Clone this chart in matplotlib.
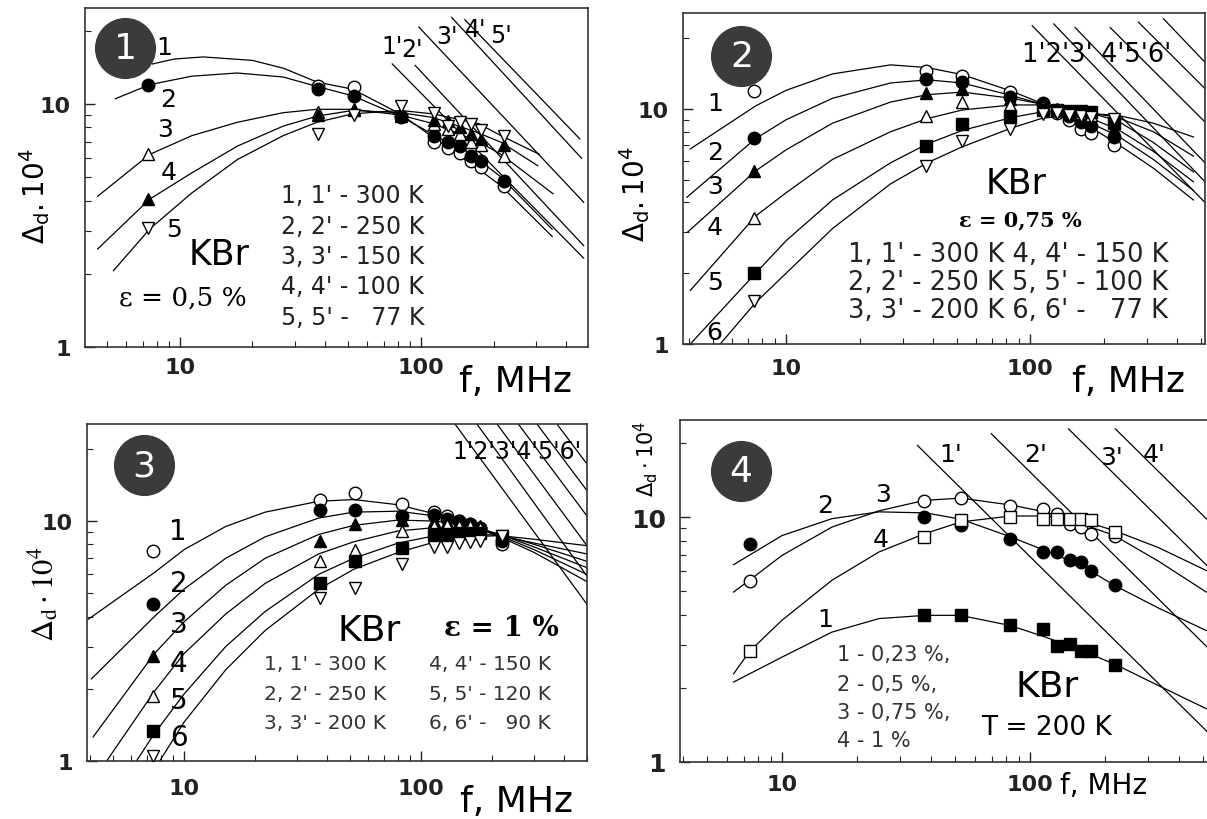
import numpy as np
import matplotlib.pyplot as plt
from matplotlib.ticker import NullFormatter

nan = np.nan

# measurement frequencies, MHz (same set in every panel)
freq = [7.4, 37.5, 52.5, 83, 113, 129, 145, 161, 177, 220]

# ---- panel 1 : KBr, eps = 0,5 % ----
p1_300 = [nan, 11.8, 11.7, 8.9, 7.0, 6.6, 6.3, 5.8, 5.5, 4.6]
p1_250 = [12.0, 11.5, 10.8, 8.8, 7.4, 7.0, 6.7, 6.1, 5.8, 4.8]
p1_150 = [6.2, 9.3, 9.4, 9.0, 8.3, 7.9, 7.5, 7.0, 6.8, 6.1]
p1_100 = [4.05, 9.0, 9.5, 8.9, 8.6, 8.5, 8.0, 7.5, 7.2, 6.8]
p1_77 = [3.1, 7.5, 9.0, 9.8, 9.2, 8.1, 8.4, 8.3, 7.8, 7.4]

p1_fit1 = [(7.7, 14.6), (9.5, 15.3), (12.5, 15.6), (20, 15.1), (27, 14.0), (37, 12.3),
           (52, 11.5), (82, 9.1), (112, 7.3), (173, 5.4), (215, 4.6), (350, 2.85)]
p1_fit2 = [(5.4, 10.5), (7.5, 12.0), (11.2, 13.0), (17.3, 13.4), (26.8, 12.9), (37, 11.8),
           (52, 10.8), (82, 8.9), (112, 7.5), (173, 5.9), (215, 5.0), (350, 3.05)]
p1_fit3 = [(4.56, 4.17), (7.5, 6.2), (11.2, 7.4), (17.3, 8.4), (26.8, 9.2), (37, 9.5),
           (52, 9.5), (82, 9.0), (112, 8.3), (173, 7.0), (215, 6.2), (353, 4.27)]
p1_fit4 = [(4.56, 2.53), (7.5, 4.06), (11.2, 5.2), (17.3, 6.7), (26.8, 8.1), (37, 8.9),
           (52, 9.4), (82, 9.2), (112, 8.8), (173, 7.6), (215, 6.95), (305, 5.57)]
p1_fit5 = [(5.3, 2.06), (7.5, 3.06), (11.2, 4.3), (17.3, 5.9), (26.8, 7.4), (37, 8.4),
           (52, 9.1), (82, 9.4), (112, 9.1), (173, 8.3), (215, 7.4), (310, 6.2)]
p1_asym = [((76, 14.6), (473, 2.32)), ((94.6, 14.4), (473, 2.61)), ((98, 20.7), (473, 3.94)),
           ((134, 22.7), (464, 5.97)), ((152, 22.2), (456, 7.18))]
p1_asym_lab = [("1'", 75.9, 17.3), ("2'", 91.8, 16.8), ("3'", 128, 19.0),
               ("4'", 169, 20.3), ("5'", 215, 19.2)]
p1_num_lab = [("1", 8.64, 17.1), ("2", 8.96, 10.5), ("3", 8.64, 7.9),
              ("4", 8.96, 5.23), ("5", 9.47, 3.06)]
p1_legend = ["1, 1' - 300 K", "2, 2' - 250 K", "3, 3' - 150 K", "4, 4' - 100 K", "5, 5' -   77 K"]
p1_legend_y = [4.2, 3.16, 2.37, 1.79, 1.33]

# ---- panel 2 : KBr, eps = 0,75 % ----
p2_300 = [11.9, 14.5, 13.8, 11.8, 10.6, 9.6, 9.0, 8.2, 7.9, 7.0]
p2_250 = [7.5, 13.4, 13.0, 11.2, 10.5, 9.8, 9.3, 8.8, 8.5, 7.6]
p2_200 = [5.45, 11.7, 12.2, 11.0, 10.4, 10.0, 9.5, 9.2, 8.9, 8.2]
p2_150 = [3.45, 9.3, 10.7, 10.4, 10.2, 10.0, 9.8, 9.6, 9.4, 8.8]
p2_100 = [2.0, 6.95, 8.6, 9.3, 9.9, 9.9, 9.8, 9.8, 9.7, 8.7]
p2_77 = [1.52, 5.7, 7.3, 8.2, 9.5, 9.6, 9.4, 9.3, 9.2, 9.1]

p2_fit1 = [(4.05, 6.76), (7.5, 10.3), (10, 12.0), (15.5, 14.1), (26.8, 15.4), (37.9, 15.0),
           (52.7, 14.0), (84, 11.9), (111, 10.6), (161, 8.9), (228, 7.1), (320, 5.6), (467, 4.1)]
p2_fit2 = [(3.92, 4.21), (7.5, 7.48), (10, 9.0), (15.5, 11.1), (26.8, 12.9), (37.9, 13.3),
           (52.7, 12.9), (84, 11.4), (111, 10.5), (161, 9.1), (228, 7.7), (320, 6.1), (467, 4.5)]
p2_fit3 = [(3.96, 3.0), (7.5, 5.45), (10, 6.7), (15.5, 8.7), (26.8, 10.7), (37.9, 11.5),
           (52.7, 11.8), (84, 11.1), (111, 10.5), (161, 9.5), (228, 8.2), (320, 6.6), (467, 4.9)]
p2_fit4 = [(4.05, 1.69), (7.5, 3.5), (10, 4.4), (15.5, 6.1), (26.8, 8.0), (37.9, 9.1),
           (52.7, 9.9), (84, 10.4), (111, 10.4), (161, 9.9), (228, 8.9), (320, 7.2), (467, 5.4)]
p2_fit5 = [(4.05, 1.0), (7.5, 2.0), (10, 2.75), (15.5, 4.1), (26.8, 5.9), (37.9, 7.1),
           (52.7, 8.1), (84, 9.2), (111, 9.7), (161, 9.8), (228, 9.2), (320, 8.0), (467, 6.3)]
p2_fit6 = [(5.37, 1.0), (7.5, 1.5), (10, 2.0), (15.5, 3.1), (26.8, 4.8), (37.9, 5.9),
           (52.7, 6.9), (84, 8.3), (111, 9.1), (161, 9.6), (228, 9.4), (320, 8.7), (467, 7.6)]
p2_asym = [((102, 22.6), (521, 4.0)), ((125, 23.0), (521, 4.9)), ((153, 22.2), (521, 5.9)),
           ((213, 22.2), (521, 8.8)), ((278, 23.4), (521, 12.2)), ((352, 24.2), (521, 15.8))]
p2_num_lab = [("1", 5.1, 10.6), ("2", 5.1, 6.55), ("3", 5.1, 4.72),
              ("4", 5.1, 3.14), ("5", 5.1, 1.83), ("6", 5.1, 1.12)]
p2_legend = ["1, 1' - 300 K 4, 4' - 150 K", "2, 2' - 250 K 5, 5' - 100 K",
             "3, 3' - 200 K 6, 6' -   77 K"]
p2_legend_y = [2.42, 1.84, 1.40]

# ---- panel 3 : KBr, eps = 1 % ----
p3_300 = [7.5, 12.3, 13.1, 11.8, 10.9, 10.5, 10.0, 9.7, 9.4, 8.0]
p3_250 = [4.5, 11.1, 11.1, 10.5, 10.6, 10.2, 10.0, 9.7, 9.4, 8.3]
p3_200 = [2.75, 8.3, 9.7, 10.1, 10.0, 9.9, 9.8, 9.7, 9.5, 8.5]
p3_150 = [1.87, 6.8, 7.6, 9.1, 9.5, 9.6, 9.5, 9.5, 9.4, 8.6]
p3_120 = [1.34, 5.5, 6.85, 7.75, 8.8, 8.8, 8.9, 8.9, 8.9, 8.7]
p3_90 = [1.05, 4.8, 5.25, 6.6, 7.8, 7.8, 8.1, 8.2, 8.3, 8.7]

p3_fit1 = [(3.95, 3.9), (7.5, 6.1), (10, 7.6), (15, 9.5), (22, 10.9), (37, 12.1), (52, 12.3),
           (80, 11.7), (115, 10.7), (160, 9.6), (215, 8.6), (300, 7.4), (500, 5.6)]
p3_fit2 = [(4.07, 2.2), (7.5, 4.0), (10, 5.2), (15, 7.0), (22, 8.6), (37, 10.3), (52, 10.9),
           (80, 11.0), (115, 10.5), (160, 9.7), (215, 8.7), (300, 7.6), (500, 6.0)]
p3_fit3 = [(4.14, 1.26), (7.5, 2.8), (10, 3.8), (15, 5.4), (22, 7.0), (37, 8.8), (52, 9.6),
           (80, 10.1), (115, 10.0), (160, 9.6), (215, 8.8), (300, 7.8), (500, 6.4)]
p3_fit4 = [(4.72, 1.0), (7.5, 1.95), (10, 2.8), (15, 4.1), (22, 5.5), (37, 7.3), (52, 8.2),
           (80, 9.1), (115, 9.4), (160, 9.3), (215, 8.8), (300, 8.0), (500, 6.8)]
p3_fit5 = [(6.3, 1.0), (7.5, 1.3), (10, 1.9), (15, 3.0), (22, 4.2), (37, 6.0), (52, 7.0),
           (80, 8.1), (115, 8.7), (160, 8.9), (215, 8.7), (300, 8.1), (500, 7.3)]
p3_fit6 = [(7.9, 1.0), (10, 1.45), (15, 2.4), (22, 3.5), (37, 5.2), (52, 6.3),
           (80, 7.4), (115, 8.2), (160, 8.6), (215, 8.7), (300, 8.4), (500, 7.9)]
p3_asym = [((139, 25.4), (501, 4.5)), ((172, 25.4), (501, 5.9)), ((209, 25.4), (501, 7.9)),
           ((257, 25.4), (501, 10.5)), ((308, 25.4), (501, 13.4)), ((374, 25.4), (501, 17.3))]
p3_num_lab = [("1", 9.4, 9.1), ("2", 9.5, 5.5), ("3", 9.5, 3.72),
              ("4", 9.5, 2.56), ("5", 9.5, 1.8), ("6", 9.5, 1.26)]
p3_legend_a = ["1, 1' - 300 K", "2, 2' - 250 K", "3, 3' - 200 K"]
p3_legend_b = ["4, 4' - 150 K", "5, 5' - 120 K", "6, 6' -   90 K"]
p3_legend_y = [2.54, 1.91, 1.45]

# ---- panel 4 : KBr, T = 200 K, different eps ----
p4_023 = [nan, 3.99, 3.97, 3.64, 3.5, 2.97, 3.04, 2.83, 2.83, 2.48]
p4_05 = [7.78, 10.0, 9.25, 8.16, 7.2, 7.2, 6.65, 6.55, 6.05, 5.26]
p4_075 = [5.47, 11.6, 12.0, 11.1, 10.8, 10.3, 9.4, 9.1, 8.55, 8.4]
p4_1 = [2.83, 8.3, 9.7, 10.0, 9.85, 9.85, 9.85, 9.85, 9.7, 8.7]

p4_fit1 = [(6.38, 2.12), (10, 2.68), (15.9, 3.39), (24.6, 3.85), (37.9, 3.97), (52.3, 3.97),
           (83, 3.61), (115, 3.24), (161, 2.86), (225, 2.48), (330, 2.05), (514, 1.65)]
p4_fit2 = [(6.38, 6.39), (10, 8.4), (15.9, 9.85), (24.6, 10.5), (37.9, 10.4), (52.6, 9.8),
           (83.6, 8.3), (115, 7.3), (161, 6.35), (219, 5.26), (330, 4.25), (514, 3.44)]
p4_fit3 = [(6.38, 4.94), (7.3, 5.47), (10, 6.97), (15.9, 9.1), (24.6, 10.6), (37.6, 11.7),
           (52.6, 11.95), (83.6, 11.2), (115, 10.5), (161, 9.4), (219, 8.4), (330, 6.6), (514, 4.94)]
p4_fit4 = [(6.38, 2.29), (7.4, 2.83), (10, 3.79), (15.9, 5.52), (24.6, 7.2), (37.6, 8.55),
           (52.6, 9.55), (83.6, 10.1), (115, 10.1), (161, 9.7), (219, 8.8), (330, 7.5), (514, 6.05)]
p4_asym = [((35.2, 19.6), (547, 1.26)), ((69.8, 21.9), (547, 2.79)),
           ((143, 22.9), (547, 5.99)), ((221, 22.9), (547, 9.25))]
p4_asym_lab = [("1'", 47.8, 18.1), ("2'", 105, 18.1), ("3'", 213, 17.6), ("4'", 316, 18.1)]
p4_num_lab = [("2", 14.9, 11.2), ("3", 25.5, 12.4), ("4", 25, 8.16), ("1", 14.9, 3.84)]
p4_legend = ["1 - 0,23 %,", "2 - 0,5 %,", "3 - 0,75 %,", "4 - 1 %"]
p4_legend_y = [2.77, 2.09, 1.6, 1.23]

# ---------------------------------------------------------------
SANS = 'DejaVu Sans'
SERIF = 'DejaVu Serif'
plt.rcParams['font.family'] = [SANS]
plt.rcParams['mathtext.fontset'] = 'dejavusans'

W, H = 1207, 820
fig = plt.figure(figsize=(W / 100, H / 100), dpi=100)
fig.patch.set_facecolor('white')


def axes_px(left, right, top, bottom):
    return fig.add_axes([left / W, 1 - bottom / H, (right - left) / W, (bottom - top) / H])


def setup(ax, xlim, ylim, xpad, ypad, ylab_size=16):
    ax.set_xscale('log')
    ax.set_yscale('log')
    ax.set_xlim(*xlim)
    ax.set_ylim(*ylim)
    ax.set_xticks([10, 100], ['10', '100'], fontweight='bold', fontsize=16)
    ax.set_yticks([1, 10], ['1', '10'], fontweight='bold', fontsize=ylab_size)
    ax.xaxis.set_minor_formatter(NullFormatter())
    ax.yaxis.set_minor_formatter(NullFormatter())
    ax.tick_params(which='both', direction='in', top=False, right=False, colors='#222222')
    ax.tick_params(which='major', length=7, width=1.0)
    ax.tick_params(which='minor', length=4, width=0.8)
    ax.tick_params(axis='x', which='major', pad=xpad)
    ax.tick_params(axis='y', which='major', pad=ypad)
    for s in ax.spines.values():
        s.set_color('#333333')
        s.set_linewidth(1.2)


def draw(ax, fits, asym, series, styles):
    for pts in fits:
        f, d = zip(*pts)
        ax.plot(f, d, color='k', lw=0.9, zorder=2)
    for (f0, d0), (f1, d1) in asym:
        ax.plot([f0, f1], [d0, d1], color='k', lw=0.9, zorder=2)
    for vals, (m, fc) in zip(series, styles):
        ax.plot(freq, vals, ls='none', marker=m, ms=9, mfc=fc, mec='k', mew=1.0, zorder=3)


def badge(ax, x, y, num):
    ax.plot([x], [y], 'o', transform=ax.transAxes, ms=43, color='#3b3b3b',
            mec='#3b3b3b', clip_on=False, zorder=5)
    ax.text(x, y, num, transform=ax.transAxes, color='white', fontsize=26,
            ha='center', va='center', zorder=6)


def labels(ax, items, size=17):
    for t, x, y in items:
        ax.text(x, y, t, fontsize=size, ha='center', va='center', zorder=4)


def ftext(x, y, s, **kw):
    fig.text(x / W, 1 - y / H, s, **kw)


o_w, o_k = ('o', 'white'), ('o', 'k')
t_w, t_k = ('^', 'white'), ('^', 'k')
s_w, s_k = ('s', 'white'), ('s', 'k')
v_w = ('v', 'white')

# ---- panel 1 ----
ax1 = axes_px(85, 588, 9, 348)
setup(ax1, (4.04, 493), (1, 24.8), 7, 10)
draw(ax1, [p1_fit1, p1_fit2, p1_fit3, p1_fit4, p1_fit5], p1_asym,
     [p1_300, p1_250, p1_150, p1_100, p1_77], [o_w, o_k, t_w, t_k, v_w])
labels(ax1, p1_asym_lab, 17)
labels(ax1, p1_num_lab, 18)
badge(ax1, 0.08, 0.882, '1')
ax1.text(14.5, 2.41, 'KBr', fontsize=25, ha='center', va='center')
ax1.text(10.3, 1.6, 'ε = 0,5 %', family=SERIF, fontsize=19, ha='center', va='center')
for s, y in zip(p1_legend, p1_legend_y):
    ax1.text(26.3, y, s, fontsize=17, ha='left', va='center', color='#222222')
ftext(35, 196, r'$\Delta_\mathrm{d}.10^4$', fontsize=20, rotation=90, ha='center', va='center')
ftext(459, 382, 'f, MHz', fontsize=26, ha='left', va='center')

# ---- panel 2 ----
ax2 = axes_px(683, 1205, 14, 345)
setup(ax2, (3.78, 521), (1, 25.6), 10, 10)
draw(ax2, [p2_fit1, p2_fit2, p2_fit3, p2_fit4, p2_fit5, p2_fit6], p2_asym,
     [p2_300, p2_250, p2_200, p2_150, p2_100, p2_77], [o_w, o_k, t_k, t_w, s_k, v_w])
ax2.text(92.5, 17.1, "1'2'3' 4'5'6'", fontsize=18.5, ha='left', va='center')
labels(ax2, p2_num_lab, 18)
badge(ax2, 0.112, 0.871, '2')
ax2.text(88, 4.83, 'KBr', fontsize=25, ha='center', va='center')
ax2.text(91, 3.39, 'ε = 0,75 %', family=SERIF, fontweight='bold', fontsize=15,
         ha='center', va='center')
for s, y in zip(p2_legend, p2_legend_y):
    ax2.text(18, y, s, fontsize=18.5, ha='left', va='center', color='#222222')
ftext(635, 194, r'$\Delta_\mathrm{d}.10^4$', fontsize=20, rotation=90, ha='center', va='center')
ftext(1072, 382, 'f, MHz', fontsize=26, ha='left', va='center')

# ---- panel 3 ----
ax3 = axes_px(87, 587, 425, 762)
setup(ax3, (3.9, 501), (1, 25.4), 12, 10)
draw(ax3, [p3_fit1, p3_fit2, p3_fit3, p3_fit4, p3_fit5, p3_fit6], p3_asym,
     [p3_300, p3_250, p3_200, p3_150, p3_120, p3_90], [o_w, o_k, t_k, t_w, s_k, v_w])
ax3.text(135, 19.6, "1'2'3'4'5'6'", fontsize=17, ha='left', va='center')
labels(ax3, p3_num_lab, 20)
badge(ax3, 0.113, 0.878, '3')
ax3.text(60.5, 3.5, 'KBr', fontsize=26, ha='center', va='center')
ax3.text(218, 3.6, 'ε = 1 %', family=SERIF, fontweight='bold', fontsize=20,
         ha='center', va='center')
for s, y in zip(p3_legend_a, p3_legend_y):
    ax3.text(21.8, y, s, fontsize=14.5, ha='left', va='center', color='#333333')
for s, y in zip(p3_legend_b, p3_legend_y):
    ax3.text(108, y, s, fontsize=14.5, ha='left', va='center', color='#333333')
ftext(43, 594, r'$\Delta_\mathrm{d}\cdot10^4$', fontsize=22, rotation=90, ha='center',
      va='center', math_fontfamily='stix')
ftext(460, 802, 'f, MHz', fontsize=26, ha='left', va='center')

# ---- panel 4 ----
ax4 = axes_px(680, 1213, 421, 763)
setup(ax4, (3.88, 547), (1, 24.9), 9, 10, ylab_size=18)
draw(ax4, [p4_fit1, p4_fit2, p4_fit3, p4_fit4], p4_asym,
     [p4_023, p4_05, p4_075, p4_1], [s_k, o_k, o_w, s_w])
labels(ax4, p4_asym_lab, 18)
labels(ax4, p4_num_lab, 18)
badge(ax4, 0.114, 0.852, '4')
for s, y in zip(p4_legend, p4_legend_y):
    ax4.text(16.6, y, s, fontsize=15, ha='left', va='center', color='#333333')
ax4.text(117, 2.05, 'KBr', fontsize=26, ha='center', va='center')
ax4.text(117, 1.39, 'T = 200 K', fontsize=19, ha='center', va='center')
ftext(646, 459, r'$\Delta_\mathrm{d}\cdot10^4$', fontsize=15, rotation=90, ha='center', va='center')
ftext(1060, 786, 'f, MHz', fontsize=20, ha='left', va='center')

fig.savefig('out.png', dpi=100, facecolor='white')
